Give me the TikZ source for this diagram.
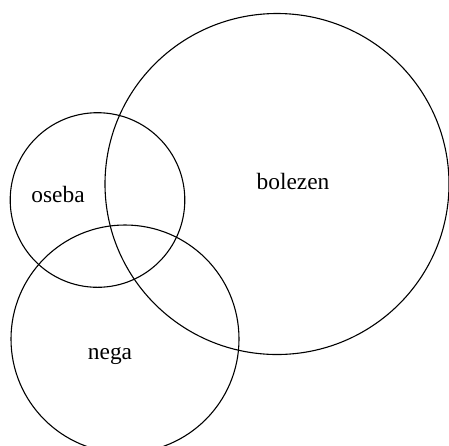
\documentclass[tikz,border=0pt]{standalone}
\usepackage{fontspec}
\setmainfont{Liberation Serif}
\begin{document}
\begin{tikzpicture}[x=1pt,y=-1pt,
  setcircle/.style={draw=black,line width=1.1pt},
  lbl/.style={font=\fontsize{23.4}{26}\selectfont,inner sep=0pt}]
\useasboundingbox (0,0) rectangle (449,445);
\draw[setcircle] (277,184) ellipse [x radius=172, y radius=170.5];
\draw[setcircle] (97.5,200) circle [radius=87.3];
\draw[setcircle] (125,339) circle [radius=114];
\node[lbl] (bolezen) at (293,181) {bolezen};
\node[lbl] (oseba) at (58,194) {oseba};
\node[lbl] (nega) at (110,356) {nega};
\end{tikzpicture}
\end{document}
